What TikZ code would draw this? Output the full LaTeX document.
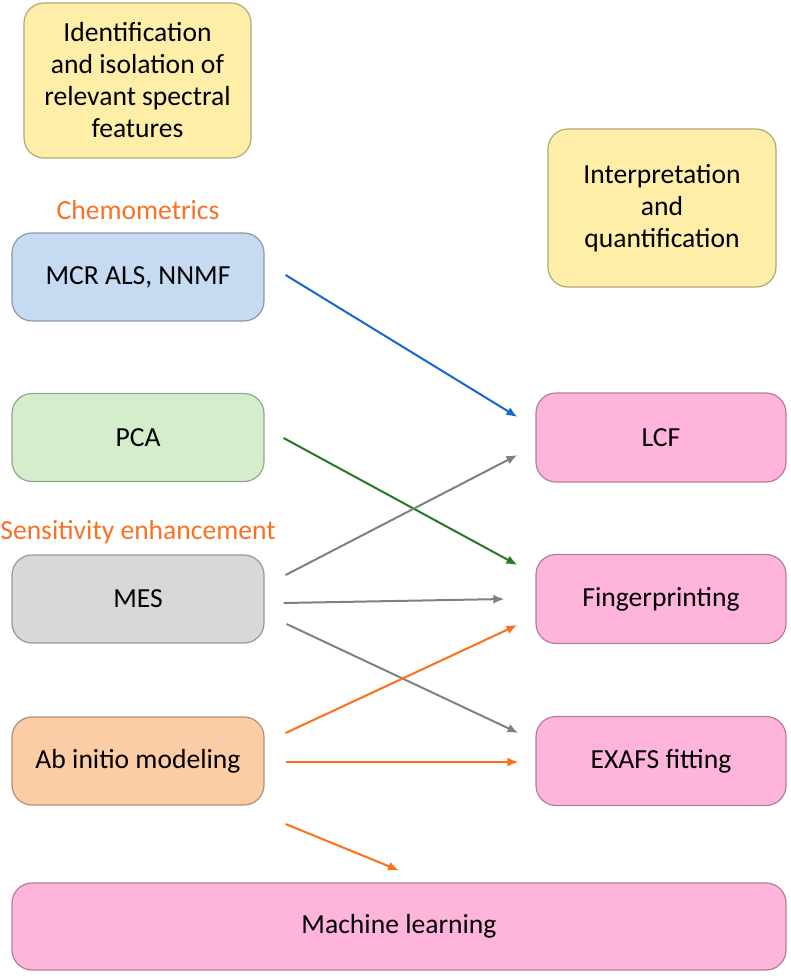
\documentclass[tikz,border=0pt]{standalone}
\usepackage{fontspec}
\setmainfont{Carlito}
\usetikzlibrary{arrows.meta}

\definecolor{boxyel}{RGB}{255, 238, 168}
\definecolor{boxblue}{RGB}{198, 218, 242}
\definecolor{boxgreen}{RGB}{212, 238, 204}
\definecolor{boxgray}{RGB}{216, 216, 216}
\definecolor{boxorange}{RGB}{252, 204, 164}
\definecolor{boxpink}{RGB}{255, 180, 219}
\definecolor{txtorange}{RGB}{250, 112, 36}
\definecolor{arrblue}{RGB}{20, 104, 204}
\definecolor{arrgreen}{RGB}{36, 122, 36}
\definecolor{arrgray}{RGB}{128, 128, 128}
\definecolor{arrorange}{RGB}{252, 112, 24}

\tikzset{
  box/.style={draw=#1!70!black, fill=#1, line width=0.6pt, rounded corners=10pt,
    align=center, inner sep=0pt, font=\fontsize{13.8}{16}\selectfont},
  method/.style={box=#1, minimum width=126pt, minimum height=44pt},
  result/.style={box=boxpink, minimum width=125pt, minimum height=44.5pt},
  heading/.style={text=txtorange, font=\fontsize{13.8}{16}\selectfont},
  link/.style={line width=1pt, -{Latex[length=5.5pt, width=4.5pt]}},
}

\begin{document}
\begin{tikzpicture}[x=0.5pt, y=-0.5pt]
  \useasboundingbox (0, 0) rectangle (791, 976);

  % column headings
  \node[box=boxyel, minimum width=113.5pt, minimum height=77.5pt] (ident) at (137.5, 80.5)
       {Identification\\and isolation of\\relevant spectral\\features};
  \node[box=boxyel, minimum width=114pt, minimum height=79pt] (interp) at (662, 208)
       {Interpretation\\and\\quantification};

  \node[heading] (chemo) at (138, 210) {Chemometrics};
  \node[heading] (sens) at (138, 532) {Sensitivity enhancement};

  % left column
  \node[method=boxblue] (mcr) at (138, 277) {MCR ALS, NNMF};
  \node[method=boxgreen] (pca) at (138, 437.5) {PCA};
  \node[method=boxgray] (mes) at (138, 599) {MES};
  \node[method=boxorange] (abinit) at (138, 761) {Ab initio modeling};

  % right column
  \node[result] (lcf) at (661, 437.5) {LCF};
  \node[result] (finger) at (661, 599) {Fingerprinting};
  \node[result] (exafs) at (661, 761) {EXAFS fitting};
  \node[box=boxpink, minimum width=387pt, minimum height=43.5pt] (ml) at (399, 926.5)
       {Machine learning};

  \draw[link, arrblue] ([shift={(21,-2)}]mcr.east) -- ([shift={(-18,-20.5)}]lcf.west);
  \draw[link, arrgreen] ([shift={(19,0.5)}]pca.east) -- ([shift={(-18,-34)}]finger.west);
  \draw[link, arrgray] ([shift={(21,-24)}]mes.east) -- ([shift={(-18,17.5)}]lcf.west);
  \draw[link, arrgray] ([shift={(19,4)}]mes.east) -- ([shift={(-31,0)}]finger.west);
  \draw[link, arrgray] ([shift={(22,25)}]mes.east) -- ([shift={(-17,-28)}]exafs.west);
  \draw[link, arrorange] ([shift={(21,-28)}]abinit.east) -- ([shift={(-18,26)}]finger.west);
  \draw[link, arrorange] ([shift={(21,1)}]abinit.east) -- ([shift={(-17,1)}]exafs.west);
  \draw[link, arrorange] ([shift={(21,63)}]abinit.east) -- ([shift={(0,-12)}]ml.north);
\end{tikzpicture}
\end{document}
